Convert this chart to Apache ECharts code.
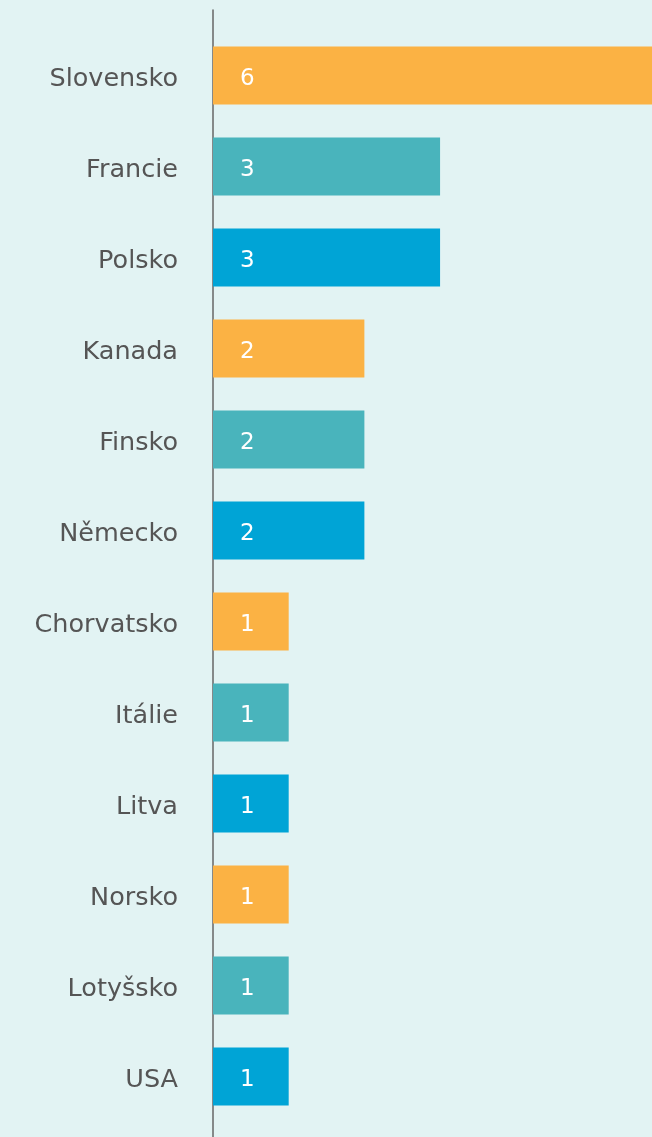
<!DOCTYPE html>
<html>
<head>
<meta charset="utf-8">
<script src="https://cdn.jsdelivr.net/npm/echarts@6/dist/echarts.min.js"></script>
<style>
  html, body { margin: 0; padding: 0; background: #e2f3f3; }
  #chart { width: 652px; height: 1137px; }
</style>
</head>
<body>
<div id="chart"></div>
<script>
const countries = ['Slovensko', 'Francie', 'Polsko', 'Kanada', 'Finsko', 'Německo',
  'Chorvatsko', 'Itálie', 'Litva', 'Norsko', 'Lotyšsko', 'USA']
const counts = [6, 3, 3, 2, 2, 2, 1, 1, 1, 1, 1, 1]
const palette = ['#fbb244', '#49b4bc', '#00a4d6']

const chart = echarts.init(document.getElementById('chart'))

const option = {
  backgroundColor: '#e2f3f3',
  animation: false,
  grid: [
    // bars
    { left: 213, right: 0, top: 30, height: 1092 },
    // only for the long vertical axis line
    { left: 213, right: 0, top: 10, bottom: -10 }
  ],
  xAxis: [
    { gridIndex: 0, type: 'value', min: 0, max: 5.8, show: false },
    { gridIndex: 1, type: 'value', min: 0, max: 1, show: false }
  ],
  yAxis: [
    {
      gridIndex: 0,
      type: 'category',
      data: countries,
      inverse: true,
      axisLine: { show: false },
      axisTick: { show: false },
      axisLabel: {
        margin: 35,
        color: '#555555',
        fontSize: 25.5,
        fontFamily: 'DejaVu Sans',
        verticalAlign: 'top',
        lineHeight: 8
      }
    },
    {
      gridIndex: 1,
      type: 'value',
      min: 0,
      max: 1,
      axisLine: { show: true, lineStyle: { color: '#666666', width: 1.5 } },
      axisTick: { show: false },
      axisLabel: { show: false },
      splitLine: { show: false }
    }
  ],
  series: [
    {
      type: 'bar',
      xAxisIndex: 0,
      yAxisIndex: 0,
      barWidth: 58,
      data: counts.map((v, i) => ({
        value: v,
        itemStyle: { color: palette[i % palette.length] }
      })),
      label: {
        show: true,
        position: 'insideLeft',
        distance: 27,
        offset: [0, 4],
        color: '#ffffff',
        fontSize: 23,
        fontFamily: 'DejaVu Sans'
      }
    },
    {
      type: 'line',
      xAxisIndex: 1,
      yAxisIndex: 1,
      data: [],
      silent: true
    }
  ]
}

chart.setOption(option)
</script>
</body>
</html>
